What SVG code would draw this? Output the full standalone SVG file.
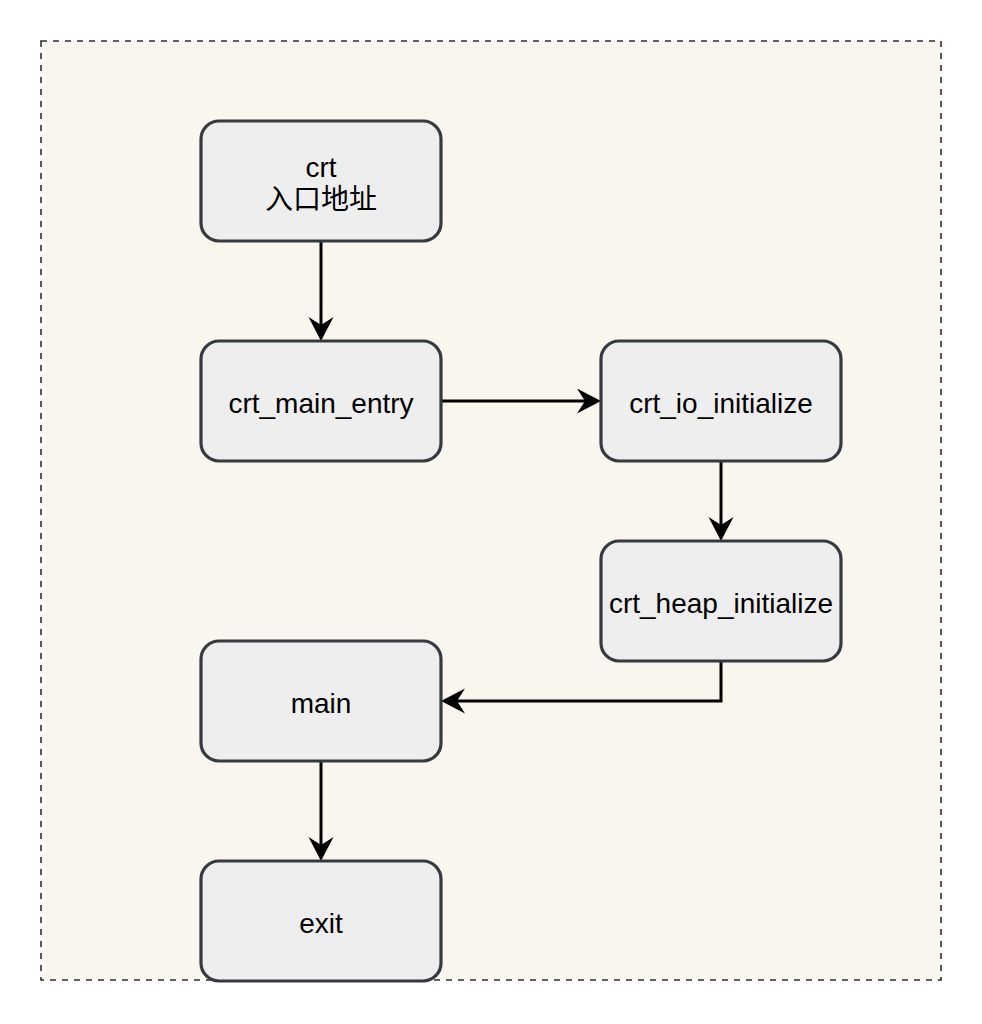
<svg xmlns="http://www.w3.org/2000/svg" width="982" height="1024" viewBox="0 0 982 1024">
<style>
.node rect{fill:#eeeeee;stroke:#36393d;stroke-width:3.2}
.node text{font-family:"Liberation Sans","Noto Sans CJK SC",sans-serif;font-size:28px;fill:#000;text-anchor:middle}
.edge{fill:none;stroke:#000;stroke-width:3;marker-end:url(#arr)}
</style>
<defs>
<marker id="arr" markerUnits="userSpaceOnUse" markerWidth="26" markerHeight="26" refX="14" refY="12.5" orient="auto">
<path d="M0,0 L24,12.5 L0,25 L8,12.5 Z" fill="#000"/>
</marker>
</defs>
<rect width="982" height="1024" fill="#ffffff"/>
<rect id="container" x="41" y="41" width="900" height="939" fill="#f9f7ed" stroke="#2e3033" stroke-width="1.6" stroke-dasharray="6 6"/>
<g id="connectors">
<path class="edge" d="M321,242 V331"/>
<path class="edge" d="M442,401 H591"/>
<path class="edge" d="M721,462 V531"/>
<path class="edge" d="M721,662 V701 H451"/>
<path class="edge" d="M321,762 V851"/>
</g>
<g id="n_crt" class="node"><rect x="201" y="121" width="240" height="120" rx="18"/><text x="321" y="177">crt</text><text x="321" y="209">入口地址</text></g>
<g id="n_main_entry" class="node"><rect x="201" y="341" width="240" height="120" rx="18"/><text x="321" y="413">crt_main_entry</text></g>
<g id="n_io" class="node"><rect x="601" y="341" width="240" height="120" rx="18"/><text x="721" y="413">crt_io_initialize</text></g>
<g id="n_heap" class="node"><rect x="601" y="541" width="240" height="120" rx="18"/><text x="721" y="613">crt_heap_initialize</text></g>
<g id="n_main" class="node"><rect x="201" y="641" width="240" height="120" rx="18"/><text x="321" y="713">main</text></g>
<g id="n_exit" class="node"><rect x="201" y="861" width="240" height="120" rx="18"/><text x="321" y="933">exit</text></g>
</svg>
